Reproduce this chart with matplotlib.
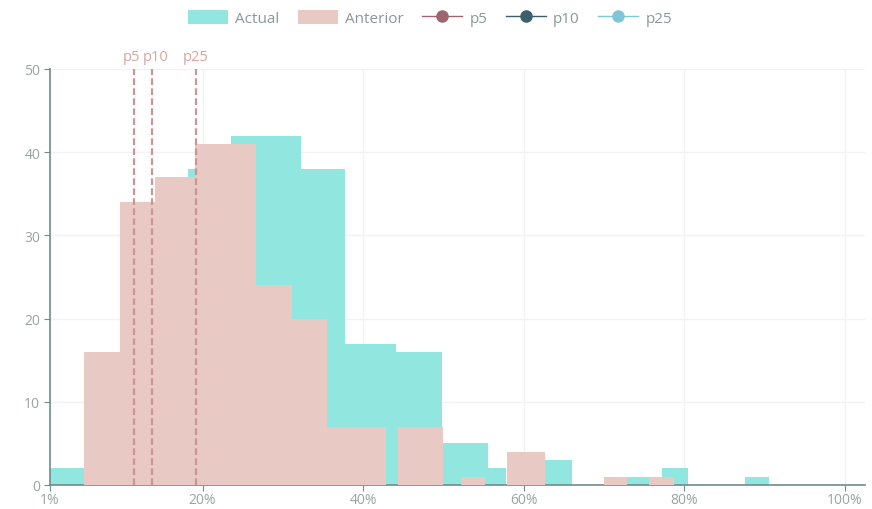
import matplotlib
matplotlib.use("Agg")
import matplotlib.pyplot as plt
from matplotlib.lines import Line2D
from matplotlib.patches import Patch

plt.rcParams['font.family'] = ['Open Sans', 'DejaVu Sans']

# Actual histogram (bin left edge %, bin right edge %, count)
actual_left = [1.0, 18.2, 23.6, 32.3, 37.7, 44.1, 49.8, 55.6, 62.7, 72.8, 77.2, 87.5]
actual_right = [5.24, 23.6, 32.3, 37.7, 44.1, 49.8, 55.6, 57.8, 66.0, 75.6, 80.4, 90.5]
actual_count = [2, 38, 42, 38, 17, 16, 5, 2, 3, 1, 2, 1]

# Anterior histogram
anterior_left = [5.24, 9.7, 14.1, 19.1, 26.6, 31.2, 35.5, 44.4, 52.2, 57.9, 69.95, 75.6]
anterior_right = [9.7, 14.1, 19.1, 26.6, 31.2, 35.5, 42.9, 50.0, 55.2, 62.7, 72.8, 78.7]
anterior_count = [16, 34, 37, 41, 24, 20, 7, 7, 1, 4, 1, 1]

# Percentiles
pct_names = ["p5", "p10", "p25"]
pct_values = [11.4, 13.7, 19.2]

x_ticks = [1, 20, 40, 60, 80, 100]
x_labels = ["1%", "20%", "40%", "60%", "80%", "100%"]
y_ticks = [0, 10, 20, 30, 40, 50]

c_actual = "#92e6e0"
c_anterior = "#e8c9c3"
c_p5 = "#9e6470"
c_p10 = "#3c5f6b"
c_p25 = "#7fc6d6"
c_pline = "#cc9494"
c_text = "#9aa3a3"

fig = plt.figure(figsize=(8.72, 5.10), dpi=100)
ax = fig.add_axes([50/872, 24/510, (865-50)/872, 416/510])

ax.bar(actual_left, actual_count,
       width=[r - l for l, r in zip(actual_left, actual_right)],
       align='edge', color=c_actual, zorder=2, linewidth=0)
ax.bar(anterior_left, anterior_count,
       width=[r - l for l, r in zip(anterior_left, anterior_right)],
       align='edge', color=c_anterior, zorder=3, linewidth=0)

label_offsets = [-0.3, 0.5, 0.0]
for name, v, off in zip(pct_names, pct_values, label_offsets):
    ax.axvline(v, color=c_pline, linestyle=(0, (3, 1.5)), linewidth=1.6, zorder=4)
    ax.text(v + off, 50.6, name, ha='center', va='bottom', fontsize=10.5, color="#d8a3a3")

ax.set_xlim(1, 102.5)
ax.set_ylim(0, 50)
ax.set_xticks(x_ticks)
ax.set_xticklabels(x_labels)
ax.set_yticks(y_ticks)
ax.grid(True, color="#f2f2f2", linewidth=1, zorder=0)
ax.set_axisbelow(True)

for s in ['top', 'right']:
    ax.spines[s].set_visible(False)
ax.spines['left'].set_color("#6f8c8c")
ax.spines['bottom'].set_color("#6f8c8c")
ax.spines['left'].set_linewidth(1.2)
ax.spines['bottom'].set_linewidth(1.2)
ax.tick_params(axis='both', colors="#6f8c8c", labelcolor=c_text, labelsize=10, length=4)
ax.tick_params(axis='x', pad=1)
ax.tick_params(axis='y', pad=3)

handles = [
    Patch(facecolor=c_actual, edgecolor='none', label="Actual"),
    Patch(facecolor=c_anterior, edgecolor='none', label="Anterior"),
    Line2D([0], [0], color=c_p5, marker='o', markersize=8, linewidth=1, label="p5"),
    Line2D([0], [0], color=c_p10, marker='o', markersize=8, linewidth=1, label="p10"),
    Line2D([0], [0], color=c_p25, marker='o', markersize=8, linewidth=1, label="p25"),
]
leg = fig.legend(handles=handles, loc='center', bbox_to_anchor=(430/872, 1 - 19/510),
                 ncol=5, frameon=False, fontsize=11, handlelength=2.6, handleheight=1.0,
                 columnspacing=1.2, handletextpad=0.5)
for t in leg.get_texts():
    t.set_color("#8a9898")

fig.savefig("out.png", dpi=100)
